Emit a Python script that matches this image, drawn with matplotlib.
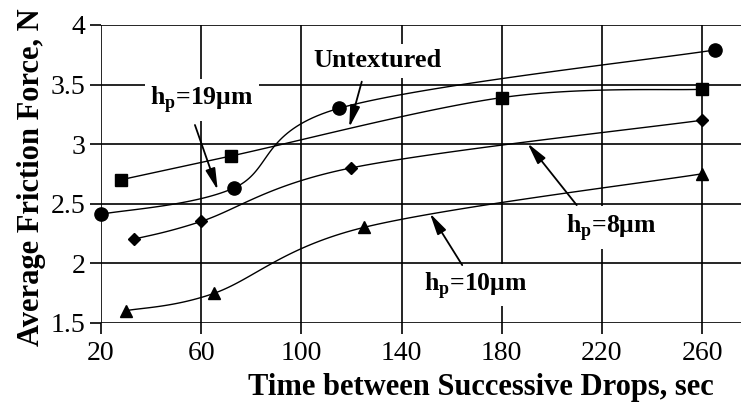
import numpy as np
import matplotlib
matplotlib.use("Agg")
import matplotlib.pyplot as plt

# ---- data ----
x_untex = [28, 72, 180, 260]
y_untex = [2.70, 2.90, 3.39, 3.46]
x_h19 = [20, 73, 115, 265]
y_h19 = [2.41, 2.63, 3.30, 3.79]
x_h8 = [33, 60, 120, 260]
y_h8 = [2.20, 2.35, 2.80, 3.20]
x_h10 = [30, 65, 125, 260]
y_h10 = [1.60, 1.745, 2.30, 2.75]
xticks = [20, 60, 100, 140, 180, 220, 260]
yticks = [1.5, 2, 2.5, 3, 3.5, 4]
ytick_labels = ['1.5', '2', '2.5', '3', '3.5', '4']

plt.rcParams['font.family'] = ['Liberation Serif', 'DejaVu Serif']
plt.rcParams['mathtext.fontset'] = 'custom'
plt.rcParams['mathtext.rm'] = 'Liberation Serif:bold'
plt.rcParams['mathtext.bf'] = 'Liberation Serif:bold'


def smooth(xs, ys, n=40):
    P = np.column_stack([xs, ys]).astype(float)
    P = np.vstack([P[0], P, P[-1]])
    out = []
    t = np.linspace(0, 1, n)[:, None]
    for i in range(1, len(P) - 2):
        p0, p1, p2, p3 = P[i - 1], P[i], P[i + 1], P[i + 2]
        c1 = p1 + (p2 - p0) / 6.0
        c2 = p2 - (p3 - p1) / 6.0
        seg = ((1 - t) ** 3) * p1 + 3 * ((1 - t) ** 2) * t * c1 + 3 * (1 - t) * t ** 2 * c2 + t ** 3 * p2
        out.append(seg)
    seg = np.vstack(out)
    return seg[:, 0], seg[:, 1]


fig = plt.figure(figsize=(7.41, 4.03), dpi=100)
ax = fig.add_axes([0.1363, 0.1995, 1 - 0.1363, 0.938 - 0.1995])
ax.set_xlim(20, 275.5)
ax.set_ylim(1.5, 4)

for s in ax.spines.values():
    s.set_visible(False)
for xv in xticks:
    ax.axvline(xv, color='black', lw=1.2, zorder=1)
for yv in yticks:
    ax.axhline(yv, color='black', lw=1.2, zorder=1)

series = [(x_untex, y_untex, 's', 8.5), (x_h19, y_h19, 'o', 9.5),
          (x_h8, y_h8, 'D', 6.5), (x_h10, y_h10, '^', 8)]
for xs, ys, m, ms in series:
    sx, sy = smooth(xs, ys)
    ax.plot(sx, sy, color='black', lw=1.0, zorder=3, clip_on=False)
    ax.plot(xs, ys, ls='none', marker=m, ms=ms, color='black', zorder=4, clip_on=False)

ax.set_xticks(xticks)
ax.set_yticks(yticks)
ax.set_yticklabels(ytick_labels)
ax.tick_params(axis='both', direction='out', length=8, width=1.2, labelsize=20, pad=3, color='black')
ax.tick_params(axis='x', pad=5)

fig.text(480.5 / 741, 1 - 387 / 403, 'Time between Successive Drops, sec', fontsize=22,
         fontweight='bold', ha='center', va='center')
fig.text(32 / 741, 1 - 177 / 403, 'Average Friction Force, N', fontsize=22,
         fontweight='bold', ha='center', va='center', rotation=90)

tk = dict(fontweight='bold', ha='center', va='center', zorder=5,
          bbox=dict(facecolor='white', edgecolor='none', pad=4))
ap = dict(arrowstyle='-|>,head_length=0.65,head_width=0.15', color='black', lw=1.3,
          mutation_scale=20, shrinkA=0, shrinkB=0)

ax.text(130.4, 3.70, 'Untextured', fontsize=19, **tk)
ax.annotate('', xy=(119.1, 3.14), xytext=(124.1, 3.524), arrowprops=ap, zorder=6)
ax.text(60.3, 3.37, r'h$_{\mathrm{p}}$=19μm', fontsize=18.5, **tk)
ax.annotate('', xy=(66.6, 2.613), xytext=(57.5, 3.16), arrowprops=ap, zorder=6)
ax.text(223.6, 2.30, r'h$_{\mathrm{p}}$=8μm', fontsize=18.5, **tk)
ax.annotate('', xy=(190.3, 3.006), xytext=(209.9, 2.487), arrowprops=ap, zorder=6)
ax.text(169.7, 1.815, r'h$_{\mathrm{p}}$=10μm', fontsize=18.5, **tk)
ax.annotate('', xy=(151.3, 2.418), xytext=(164.2, 1.983), arrowprops=ap, zorder=6)

fig.savefig('out.png', dpi=100)
